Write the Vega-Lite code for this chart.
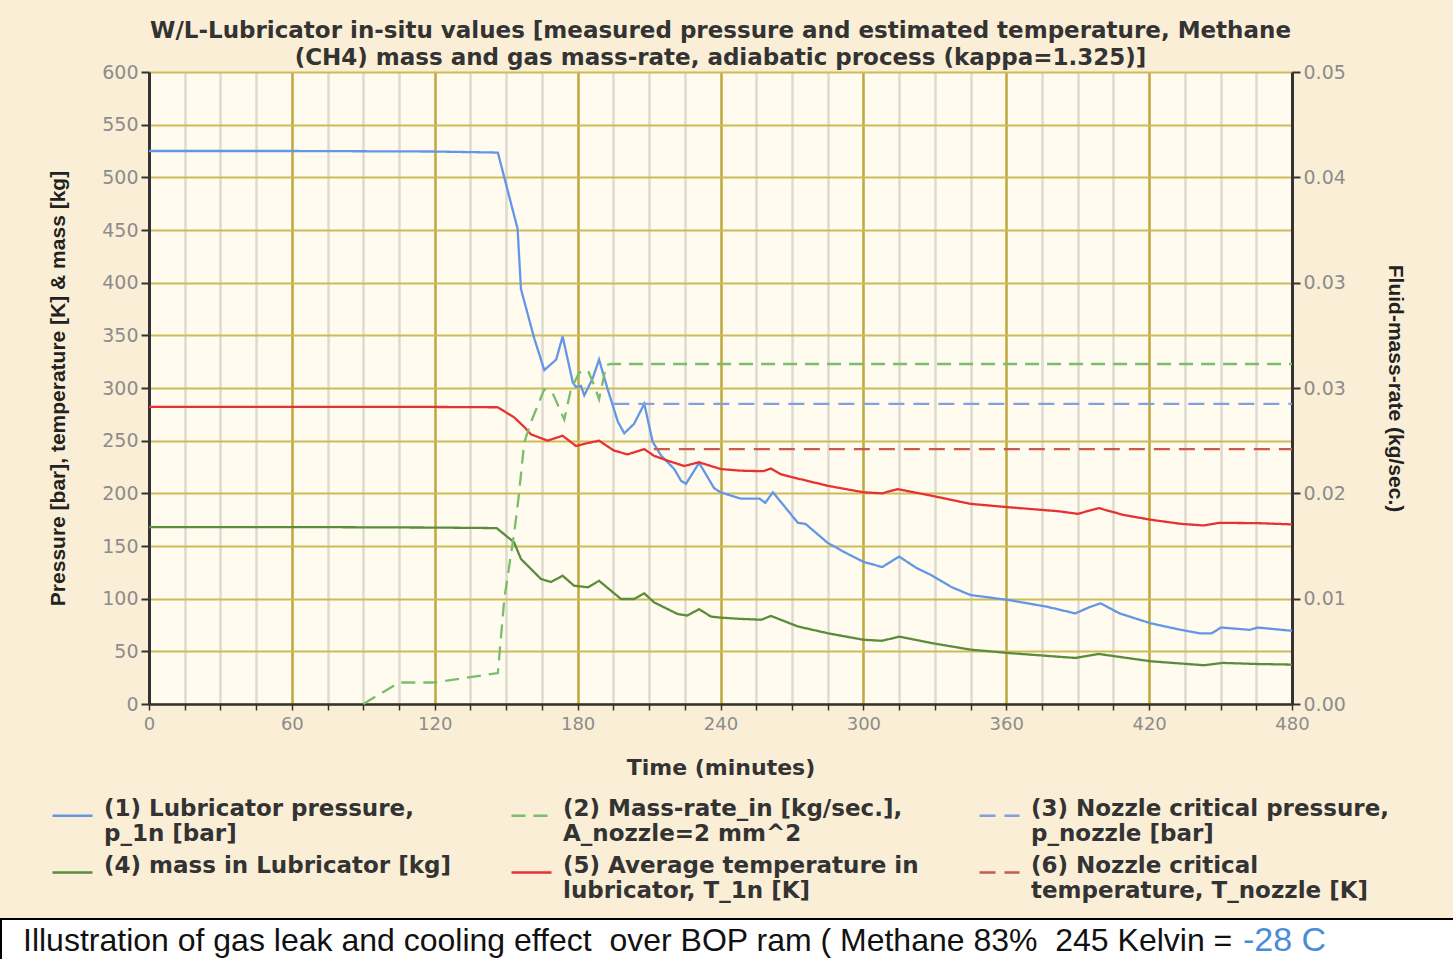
{
  "$schema": "https://vega.github.io/schema/vega-lite/v6.json",
  "background": "#FAEFD6",
  "padding": {"left": 0, "top": 20, "right": 0, "bottom": 0},
  "config": {"view": {"stroke": null}},
  "datasets": {
    "left": [
      {"s": "(1) Lubricator pressure,\np_1n [bar]", "t": 0, "v": 525},
      {"s": "(1) Lubricator pressure,\np_1n [bar]", "t": 60, "v": 525},
      {"s": "(1) Lubricator pressure,\np_1n [bar]", "t": 120, "v": 524.5},
      {"s": "(1) Lubricator pressure,\np_1n [bar]", "t": 146.5, "v": 523.5},
      {"s": "(1) Lubricator pressure,\np_1n [bar]", "t": 154.8, "v": 451},
      {"s": "(1) Lubricator pressure,\np_1n [bar]", "t": 156.2, "v": 394},
      {"s": "(1) Lubricator pressure,\np_1n [bar]", "t": 161.8, "v": 347},
      {"s": "(1) Lubricator pressure,\np_1n [bar]", "t": 166, "v": 317},
      {"s": "(1) Lubricator pressure,\np_1n [bar]", "t": 171, "v": 327},
      {"s": "(1) Lubricator pressure,\np_1n [bar]", "t": 173.7, "v": 349},
      {"s": "(1) Lubricator pressure,\np_1n [bar]", "t": 178, "v": 305},
      {"s": "(1) Lubricator pressure,\np_1n [bar]", "t": 179.3, "v": 301},
      {"s": "(1) Lubricator pressure,\np_1n [bar]", "t": 181.4, "v": 302},
      {"s": "(1) Lubricator pressure,\np_1n [bar]", "t": 182.8, "v": 293},
      {"s": "(1) Lubricator pressure,\np_1n [bar]", "t": 186.3, "v": 309},
      {"s": "(1) Lubricator pressure,\np_1n [bar]", "t": 189, "v": 327},
      {"s": "(1) Lubricator pressure,\np_1n [bar]", "t": 192.6, "v": 299},
      {"s": "(1) Lubricator pressure,\np_1n [bar]", "t": 196.9, "v": 268},
      {"s": "(1) Lubricator pressure,\np_1n [bar]", "t": 199.6, "v": 257},
      {"s": "(1) Lubricator pressure,\np_1n [bar]", "t": 203.7, "v": 266},
      {"s": "(1) Lubricator pressure,\np_1n [bar]", "t": 208, "v": 285},
      {"s": "(1) Lubricator pressure,\np_1n [bar]", "t": 211.5, "v": 249},
      {"s": "(1) Lubricator pressure,\np_1n [bar]", "t": 215, "v": 236},
      {"s": "(1) Lubricator pressure,\np_1n [bar]", "t": 220.6, "v": 223},
      {"s": "(1) Lubricator pressure,\np_1n [bar]", "t": 223.4, "v": 212},
      {"s": "(1) Lubricator pressure,\np_1n [bar]", "t": 225.5, "v": 209},
      {"s": "(1) Lubricator pressure,\np_1n [bar]", "t": 231, "v": 229},
      {"s": "(1) Lubricator pressure,\np_1n [bar]", "t": 237.3, "v": 205},
      {"s": "(1) Lubricator pressure,\np_1n [bar]", "t": 240, "v": 201},
      {"s": "(1) Lubricator pressure,\np_1n [bar]", "t": 248.4, "v": 195},
      {"s": "(1) Lubricator pressure,\np_1n [bar]", "t": 256.4, "v": 195},
      {"s": "(1) Lubricator pressure,\np_1n [bar]", "t": 258.8, "v": 191},
      {"s": "(1) Lubricator pressure,\np_1n [bar]", "t": 262, "v": 201},
      {"s": "(1) Lubricator pressure,\np_1n [bar]", "t": 266, "v": 190},
      {"s": "(1) Lubricator pressure,\np_1n [bar]", "t": 272.5, "v": 172},
      {"s": "(1) Lubricator pressure,\np_1n [bar]", "t": 275.7, "v": 171},
      {"s": "(1) Lubricator pressure,\np_1n [bar]", "t": 285, "v": 153},
      {"s": "(1) Lubricator pressure,\np_1n [bar]", "t": 293, "v": 143},
      {"s": "(1) Lubricator pressure,\np_1n [bar]", "t": 300, "v": 135},
      {"s": "(1) Lubricator pressure,\np_1n [bar]", "t": 307.9, "v": 130},
      {"s": "(1) Lubricator pressure,\np_1n [bar]", "t": 315, "v": 140},
      {"s": "(1) Lubricator pressure,\np_1n [bar]", "t": 322.4, "v": 129},
      {"s": "(1) Lubricator pressure,\np_1n [bar]", "t": 328.8, "v": 122},
      {"s": "(1) Lubricator pressure,\np_1n [bar]", "t": 337, "v": 111},
      {"s": "(1) Lubricator pressure,\np_1n [bar]", "t": 344.9, "v": 103.5},
      {"s": "(1) Lubricator pressure,\np_1n [bar]", "t": 361, "v": 98.7},
      {"s": "(1) Lubricator pressure,\np_1n [bar]", "t": 377, "v": 92.4},
      {"s": "(1) Lubricator pressure,\np_1n [bar]", "t": 389, "v": 86},
      {"s": "(1) Lubricator pressure,\np_1n [bar]", "t": 395, "v": 92},
      {"s": "(1) Lubricator pressure,\np_1n [bar]", "t": 399.6, "v": 95.6},
      {"s": "(1) Lubricator pressure,\np_1n [bar]", "t": 407.6, "v": 86},
      {"s": "(1) Lubricator pressure,\np_1n [bar]", "t": 420.5, "v": 76.7},
      {"s": "(1) Lubricator pressure,\np_1n [bar]", "t": 432, "v": 71},
      {"s": "(1) Lubricator pressure,\np_1n [bar]", "t": 441.4, "v": 67},
      {"s": "(1) Lubricator pressure,\np_1n [bar]", "t": 446.2, "v": 67},
      {"s": "(1) Lubricator pressure,\np_1n [bar]", "t": 450.2, "v": 72.6},
      {"s": "(1) Lubricator pressure,\np_1n [bar]", "t": 462.3, "v": 70.4},
      {"s": "(1) Lubricator pressure,\np_1n [bar]", "t": 465.5, "v": 72.6},
      {"s": "(1) Lubricator pressure,\np_1n [bar]", "t": 480, "v": 69.5},
      {"s": "(3) Nozzle critical pressure,\np_nozzle [bar]", "t": 195, "v": 285},
      {"s": "(3) Nozzle critical pressure,\np_nozzle [bar]", "t": 480, "v": 285},
      {"s": "(4) mass in Lubricator [kg]", "t": 0, "v": 168},
      {"s": "(4) mass in Lubricator [kg]", "t": 60, "v": 168},
      {"s": "(4) mass in Lubricator [kg]", "t": 120, "v": 167.5},
      {"s": "(4) mass in Lubricator [kg]", "t": 146, "v": 167},
      {"s": "(4) mass in Lubricator [kg]", "t": 153.3, "v": 153.5},
      {"s": "(4) mass in Lubricator [kg]", "t": 156.2, "v": 137.7},
      {"s": "(4) mass in Lubricator [kg]", "t": 164.6, "v": 118.7},
      {"s": "(4) mass in Lubricator [kg]", "t": 168.8, "v": 115.8},
      {"s": "(4) mass in Lubricator [kg]", "t": 173.7, "v": 121.8},
      {"s": "(4) mass in Lubricator [kg]", "t": 178.5, "v": 112.3},
      {"s": "(4) mass in Lubricator [kg]", "t": 184.3, "v": 110.8},
      {"s": "(4) mass in Lubricator [kg]", "t": 189, "v": 117},
      {"s": "(4) mass in Lubricator [kg]", "t": 198.2, "v": 99.7},
      {"s": "(4) mass in Lubricator [kg]", "t": 203.7, "v": 99.7},
      {"s": "(4) mass in Lubricator [kg]", "t": 208, "v": 105},
      {"s": "(4) mass in Lubricator [kg]", "t": 212.1, "v": 96.5},
      {"s": "(4) mass in Lubricator [kg]", "t": 222, "v": 85.4},
      {"s": "(4) mass in Lubricator [kg]", "t": 226, "v": 84},
      {"s": "(4) mass in Lubricator [kg]", "t": 231, "v": 90},
      {"s": "(4) mass in Lubricator [kg]", "t": 236, "v": 83},
      {"s": "(4) mass in Lubricator [kg]", "t": 240, "v": 82},
      {"s": "(4) mass in Lubricator [kg]", "t": 248.4, "v": 80.8},
      {"s": "(4) mass in Lubricator [kg]", "t": 257.2, "v": 80},
      {"s": "(4) mass in Lubricator [kg]", "t": 261.2, "v": 83.6},
      {"s": "(4) mass in Lubricator [kg]", "t": 272.5, "v": 73.6},
      {"s": "(4) mass in Lubricator [kg]", "t": 285.4, "v": 67},
      {"s": "(4) mass in Lubricator [kg]", "t": 300, "v": 61},
      {"s": "(4) mass in Lubricator [kg]", "t": 307.9, "v": 60},
      {"s": "(4) mass in Lubricator [kg]", "t": 315, "v": 64},
      {"s": "(4) mass in Lubricator [kg]", "t": 328.8, "v": 57.8},
      {"s": "(4) mass in Lubricator [kg]", "t": 345, "v": 51.6},
      {"s": "(4) mass in Lubricator [kg]", "t": 361, "v": 48.4},
      {"s": "(4) mass in Lubricator [kg]", "t": 389, "v": 43.7},
      {"s": "(4) mass in Lubricator [kg]", "t": 398.8, "v": 47.5},
      {"s": "(4) mass in Lubricator [kg]", "t": 420.5, "v": 40.6},
      {"s": "(4) mass in Lubricator [kg]", "t": 443, "v": 36.8},
      {"s": "(4) mass in Lubricator [kg]", "t": 451, "v": 39},
      {"s": "(4) mass in Lubricator [kg]", "t": 465, "v": 38},
      {"s": "(4) mass in Lubricator [kg]", "t": 480, "v": 37.4},
      {"s": "(5) Average temperature in\nlubricator, T_1n [K]", "t": 0, "v": 282},
      {"s": "(5) Average temperature in\nlubricator, T_1n [K]", "t": 60, "v": 282},
      {"s": "(5) Average temperature in\nlubricator, T_1n [K]", "t": 120, "v": 282},
      {"s": "(5) Average temperature in\nlubricator, T_1n [K]", "t": 146.5, "v": 281.7},
      {"s": "(5) Average temperature in\nlubricator, T_1n [K]", "t": 153.4, "v": 272},
      {"s": "(5) Average temperature in\nlubricator, T_1n [K]", "t": 157.6, "v": 263},
      {"s": "(5) Average temperature in\nlubricator, T_1n [K]", "t": 160.4, "v": 256},
      {"s": "(5) Average temperature in\nlubricator, T_1n [K]", "t": 167.4, "v": 250},
      {"s": "(5) Average temperature in\nlubricator, T_1n [K]", "t": 173.7, "v": 254.7},
      {"s": "(5) Average temperature in\nlubricator, T_1n [K]", "t": 179.3, "v": 245},
      {"s": "(5) Average temperature in\nlubricator, T_1n [K]", "t": 182.8, "v": 247},
      {"s": "(5) Average temperature in\nlubricator, T_1n [K]", "t": 189, "v": 250},
      {"s": "(5) Average temperature in\nlubricator, T_1n [K]", "t": 195.3, "v": 240.5},
      {"s": "(5) Average temperature in\nlubricator, T_1n [K]", "t": 201, "v": 237},
      {"s": "(5) Average temperature in\nlubricator, T_1n [K]", "t": 208, "v": 242},
      {"s": "(5) Average temperature in\nlubricator, T_1n [K]", "t": 212, "v": 235.7},
      {"s": "(5) Average temperature in\nlubricator, T_1n [K]", "t": 217.8, "v": 231},
      {"s": "(5) Average temperature in\nlubricator, T_1n [K]", "t": 224.7, "v": 226},
      {"s": "(5) Average temperature in\nlubricator, T_1n [K]", "t": 231, "v": 229.5},
      {"s": "(5) Average temperature in\nlubricator, T_1n [K]", "t": 237.3, "v": 225},
      {"s": "(5) Average temperature in\nlubricator, T_1n [K]", "t": 240.3, "v": 223},
      {"s": "(5) Average temperature in\nlubricator, T_1n [K]", "t": 248.6, "v": 221.5},
      {"s": "(5) Average temperature in\nlubricator, T_1n [K]", "t": 258, "v": 221},
      {"s": "(5) Average temperature in\nlubricator, T_1n [K]", "t": 261.2, "v": 223.6},
      {"s": "(5) Average temperature in\nlubricator, T_1n [K]", "t": 265.4, "v": 218},
      {"s": "(5) Average temperature in\nlubricator, T_1n [K]", "t": 272.5, "v": 214},
      {"s": "(5) Average temperature in\nlubricator, T_1n [K]", "t": 285.4, "v": 207},
      {"s": "(5) Average temperature in\nlubricator, T_1n [K]", "t": 300, "v": 201},
      {"s": "(5) Average temperature in\nlubricator, T_1n [K]", "t": 307.9, "v": 200},
      {"s": "(5) Average temperature in\nlubricator, T_1n [K]", "t": 314.3, "v": 204},
      {"s": "(5) Average temperature in\nlubricator, T_1n [K]", "t": 327.2, "v": 198.4},
      {"s": "(5) Average temperature in\nlubricator, T_1n [K]", "t": 345, "v": 190},
      {"s": "(5) Average temperature in\nlubricator, T_1n [K]", "t": 361, "v": 186.8},
      {"s": "(5) Average temperature in\nlubricator, T_1n [K]", "t": 381.9, "v": 183},
      {"s": "(5) Average temperature in\nlubricator, T_1n [K]", "t": 390, "v": 180.5},
      {"s": "(5) Average temperature in\nlubricator, T_1n [K]", "t": 398.8, "v": 186},
      {"s": "(5) Average temperature in\nlubricator, T_1n [K]", "t": 409.2, "v": 179.5},
      {"s": "(5) Average temperature in\nlubricator, T_1n [K]", "t": 420.5, "v": 175},
      {"s": "(5) Average temperature in\nlubricator, T_1n [K]", "t": 433.4, "v": 171},
      {"s": "(5) Average temperature in\nlubricator, T_1n [K]", "t": 443, "v": 169.5},
      {"s": "(5) Average temperature in\nlubricator, T_1n [K]", "t": 449.5, "v": 172},
      {"s": "(5) Average temperature in\nlubricator, T_1n [K]", "t": 465.6, "v": 171.7},
      {"s": "(5) Average temperature in\nlubricator, T_1n [K]", "t": 480, "v": 170.5},
      {"s": "(6) Nozzle critical\ntemperature, T_nozzle [K]", "t": 212, "v": 242},
      {"s": "(6) Nozzle critical\ntemperature, T_nozzle [K]", "t": 480, "v": 242}
    ],
    "right": [
      {"s": "(2) Mass-rate_in [kg/sec.],\nA_nozzle=2 mm^2", "t": 90, "v": 0},
      {"s": "(2) Mass-rate_in [kg/sec.],\nA_nozzle=2 mm^2", "t": 105, "v": 0.0017},
      {"s": "(2) Mass-rate_in [kg/sec.],\nA_nozzle=2 mm^2", "t": 120, "v": 0.0017},
      {"s": "(2) Mass-rate_in [kg/sec.],\nA_nozzle=2 mm^2", "t": 146.5, "v": 0.00245},
      {"s": "(2) Mass-rate_in [kg/sec.],\nA_nozzle=2 mm^2", "t": 149.2, "v": 0.0083},
      {"s": "(2) Mass-rate_in [kg/sec.],\nA_nozzle=2 mm^2", "t": 153.4, "v": 0.0136},
      {"s": "(2) Mass-rate_in [kg/sec.],\nA_nozzle=2 mm^2", "t": 155, "v": 0.016},
      {"s": "(2) Mass-rate_in [kg/sec.],\nA_nozzle=2 mm^2", "t": 157.6, "v": 0.0207},
      {"s": "(2) Mass-rate_in [kg/sec.],\nA_nozzle=2 mm^2", "t": 160.4, "v": 0.0223},
      {"s": "(2) Mass-rate_in [kg/sec.],\nA_nozzle=2 mm^2", "t": 166, "v": 0.0249},
      {"s": "(2) Mass-rate_in [kg/sec.],\nA_nozzle=2 mm^2", "t": 169.5, "v": 0.0246},
      {"s": "(2) Mass-rate_in [kg/sec.],\nA_nozzle=2 mm^2", "t": 174.4, "v": 0.0225},
      {"s": "(2) Mass-rate_in [kg/sec.],\nA_nozzle=2 mm^2", "t": 177.2, "v": 0.0249},
      {"s": "(2) Mass-rate_in [kg/sec.],\nA_nozzle=2 mm^2", "t": 180.6, "v": 0.0262},
      {"s": "(2) Mass-rate_in [kg/sec.],\nA_nozzle=2 mm^2", "t": 184.3, "v": 0.0264},
      {"s": "(2) Mass-rate_in [kg/sec.],\nA_nozzle=2 mm^2", "t": 187, "v": 0.0252},
      {"s": "(2) Mass-rate_in [kg/sec.],\nA_nozzle=2 mm^2", "t": 189, "v": 0.0241},
      {"s": "(2) Mass-rate_in [kg/sec.],\nA_nozzle=2 mm^2", "t": 192, "v": 0.0268},
      {"s": "(2) Mass-rate_in [kg/sec.],\nA_nozzle=2 mm^2", "t": 194, "v": 0.0269},
      {"s": "(2) Mass-rate_in [kg/sec.],\nA_nozzle=2 mm^2", "t": 480, "v": 0.0269}
    ],
    "caption": [
      {"part": "main", "text": "Illustration of gas leak and cooling effect \u00a0over BOP ram ( Methane 83% \u00a0245 Kelvin = "},
      {"part": "temp", "text": "-28 C"}
    ]
  },
  "spacing": 15,
  "vconcat": [
    {
      "spacing": 0,
      "hconcat": [
        {
          "width": 46,
          "height": 10,
          "view": {"stroke": null},
          "data": {"values": []},
          "mark": {"type": "point", "opacity": 0}
        },
        {
          "width": 1143,
          "height": 632,
          "view": {"fill": "#FFFCEF", "stroke": null},
          "title": {
            "text": ["W/L-Lubricator in-situ values [measured pressure and estimated temperature, Methane", "(CH4) mass and gas mass-rate, adiabatic process (kappa=1.325)]"],
            "font": "DejaVu Sans",
            "fontSize": 23,
            "fontWeight": "bold",
            "color": "#333333",
            "lineHeight": 27,
            "offset": -7,
            "frame": "group",
            "anchor": "middle"
          },
          "encoding": {
            "x": {
              "field": "t",
              "type": "quantitative",
              "scale": {"domain": [0, 480], "nice": false, "zero": false},
              "axis": {
                "values": [0, 15, 30, 45, 60, 75, 90, 105, 120, 135, 150, 165, 180, 195, 210, 225, 240, 255, 270, 285, 300, 315, 330, 345, 360, 375, 390, 405, 420, 435, 450, 465, 480],
                "labelExpr": "datum.value % 60 === 0 ? datum.label : ''",
                "grid": true,
                "gridColor": {"condition": {"test": "datum.value % 60 === 0", "value": "#BFA73E"}, "value": "#DEDAD0"},
                "gridWidth": 2.5,
                "domainColor": "#333333",
                "domainWidth": 2.5,
                "tickColor": "#333333",
                "tickSize": 6,
                "tickWidth": 1.5,
                "labelColor": "#8C8C8C",
                "labelFont": "DejaVu Sans",
                "labelFontSize": 18,
                "labelPadding": 5,
                "labelFlush": false,
                "labelOverlap": false,
                "title": "Time (minutes)",
                "titleFont": "DejaVu Sans",
                "titleFontWeight": "bold",
                "titleFontSize": 22,
                "titleColor": "#333333",
                "titlePadding": 24
              }
            }
          },
          "layer": [
            {
              "data": {"name": "left"},
              "mark": {"type": "line", "strokeWidth": 2.3},
              "encoding": {
                "y": {
                  "field": "v",
                  "type": "quantitative",
                  "scale": {"domain": [0, 600], "nice": false},
                  "axis": {
                    "values": [0, 50, 100, 150, 200, 250, 300, 350, 400, 450, 500, 550, 600],
                    "grid": true,
                    "gridColor": "#CDBB58",
                    "gridWidth": 2,
                    "domainColor": "#333333",
                    "domainWidth": 3,
                    "tickColor": "#333333",
                    "tickSize": 8,
                    "tickWidth": 2,
                    "labelColor": "#8C8C8C",
                    "labelFont": "DejaVu Sans",
                    "labelFontSize": 19,
                    "labelPadding": 3,
                    "title": "Pressure [bar], temperature  [K] & mass [kg]",
                    "titleFont": "Liberation Sans",
                    "titleFontWeight": "bold",
                    "titleFontSize": 21,
                    "titleColor": "#222222",
                    "titlePadding": 33
                  }
                },
                "color": {
                  "field": "s",
                  "type": "nominal",
                  "scale": {
                    "domain": ["(1) Lubricator pressure,\np_1n [bar]", "(2) Mass-rate_in [kg/sec.],\nA_nozzle=2 mm^2", "(3) Nozzle critical pressure,\np_nozzle [bar]", "(4) mass in Lubricator [kg]", "(5) Average temperature in\nlubricator, T_1n [K]", "(6) Nozzle critical\ntemperature, T_nozzle [K]"],
                    "range": ["#6496E6", "#78BE6E", "#82A0E1", "#5A8C3C", "#E63232", "#C85A50"]
                  },
                  "legend": {
                    "orient": "none", "legendX": 50, "legendY": 722, "columns": 3, "direction": "horizontal", "title": null,
                    "symbolType": "stroke", "symbolSize": 1600, "symbolStrokeWidth": 2.5,
                    "labelFont": "DejaVu Sans", "labelFontWeight": "bold", "labelFontSize": 23, "labelColor": "#333333",
                    "labelLimit": 1000, "labelExpr": "split(datum.label, '\\n')", "columnPadding": 55, "rowPadding": 5,
                    "labelOffset": 10, "labelBaseline": "alphabetic", "padding": 0
                  }
                },
                "strokeDash": {
                  "field": "s",
                  "type": "nominal",
                  "scale": {
                    "domain": ["(1) Lubricator pressure,\np_1n [bar]", "(2) Mass-rate_in [kg/sec.],\nA_nozzle=2 mm^2", "(3) Nozzle critical pressure,\np_nozzle [bar]", "(4) mass in Lubricator [kg]", "(5) Average temperature in\nlubricator, T_1n [K]", "(6) Nozzle critical\ntemperature, T_nozzle [K]"],
                    "range": [[1, 0], [14, 8], [16, 9], [1, 0], [1, 0], [16, 9]]
                  },
                  "legend": {
                    "orient": "none", "legendX": 50, "legendY": 722, "columns": 3, "direction": "horizontal", "title": null,
                    "symbolType": "stroke", "symbolSize": 1600, "symbolStrokeWidth": 2.5,
                    "labelFont": "DejaVu Sans", "labelFontWeight": "bold", "labelFontSize": 23, "labelColor": "#333333",
                    "labelLimit": 1000, "labelExpr": "split(datum.label, '\\n')", "columnPadding": 55, "rowPadding": 5,
                    "labelOffset": 10, "labelBaseline": "alphabetic", "padding": 0
                  }
                }
              }
            },
            {
              "data": {"name": "right"},
              "mark": {"type": "line", "strokeWidth": 2.3},
              "encoding": {
                "y": {
                  "field": "v",
                  "type": "quantitative",
                  "scale": {"domain": [0, 0.05], "nice": false},
                  "axis": {
                    "orient": "right",
                    "values": [0, 0.008333333333333333, 0.016666666666666666, 0.025, 0.03333333333333333, 0.041666666666666664, 0.05],
                    "format": ".2f",
                    "grid": false,
                    "domainColor": "#333333",
                    "domainWidth": 3,
                    "tickColor": "#333333",
                    "tickSize": 8,
                    "tickWidth": 2,
                    "labelColor": "#8C8C8C",
                    "labelFont": "DejaVu Sans",
                    "labelFontSize": 19,
                    "labelPadding": 3,
                    "title": "Fluid-mass-rate (kg/sec.)",
                    "titleAngle": 90,
                    "titleFont": "Liberation Sans",
                    "titleFontWeight": "bold",
                    "titleFontSize": 21,
                    "titleColor": "#222222",
                    "titlePadding": 39
                  }
                },
                "color": {"field": "s", "type": "nominal"},
                "strokeDash": {"field": "s", "type": "nominal"}
              }
            }
          ],
          "resolve": {"scale": {"y": "independent"}}
        }
      ]
    },
    {
      "width": 1453,
      "height": 43,
      "view": {"fill": "#FFFFFF", "stroke": "#000000", "strokeWidth": 2},
      "data": {"name": "caption"},
      "encoding": {
        "x": {"field": "part", "type": "nominal", "scale": {"type": "point", "domain": ["main", "temp"], "range": [22, 1242], "padding": 0}, "axis": null},
        "text": {"field": "text"}
      },
      "layer": [
        {
          "transform": [{"filter": "datum.part === 'main'"}],
          "mark": {"type": "text", "align": "left", "baseline": "middle", "font": "Liberation Sans", "fontSize": 32, "color": "#111111"}
        },
        {
          "transform": [{"filter": "datum.part === 'temp'"}],
          "mark": {"type": "text", "align": "left", "baseline": "middle", "font": "Liberation Sans", "fontSize": 34, "color": "#4A8DD6"}
        }
      ]
    }
  ],
  "resolve": {"scale": {"color": "independent", "strokeDash": "independent"}}
}
